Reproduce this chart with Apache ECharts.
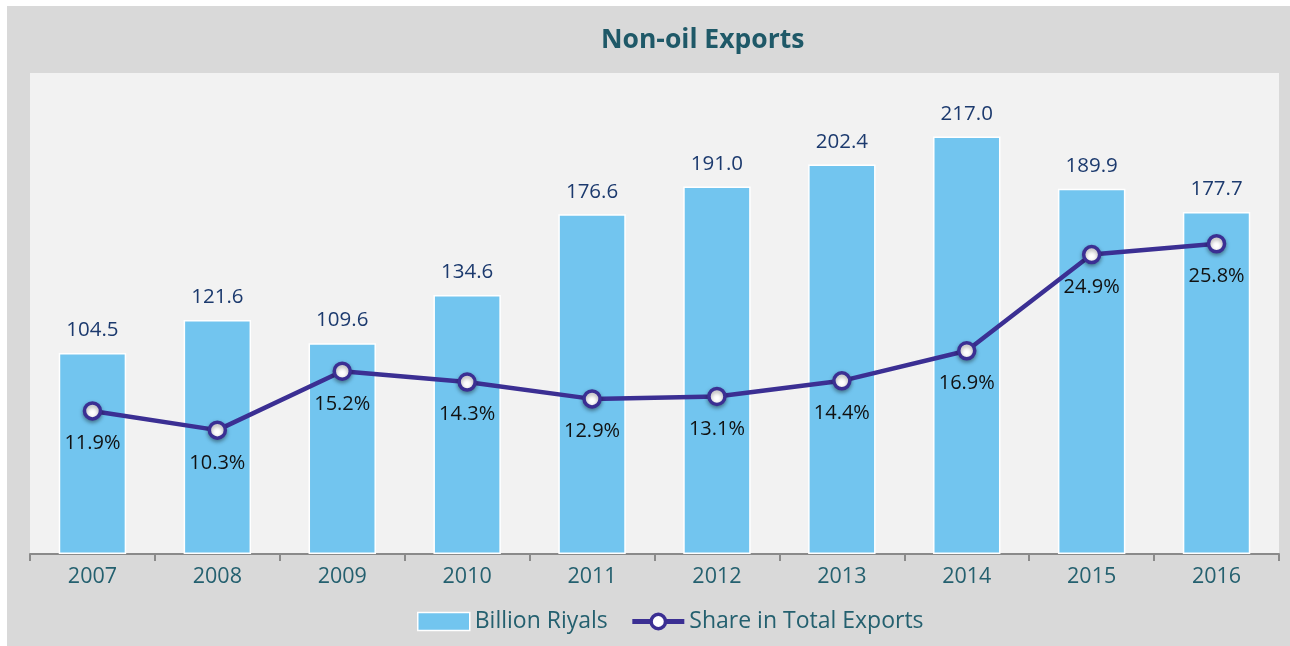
<!DOCTYPE html>
<html>
<head>
<meta charset="utf-8">
<script src="https://cdn.jsdelivr.net/npm/echarts@6/dist/echarts.min.js"></script>
<style>
  html, body { margin: 0; padding: 0; background: #ffffff; }
  #chart { position: absolute; left: 7px; top: 6px; width: 1283px; height: 640px; background: #d9d9d9; }
</style>
</head>
<body>
<div id="chart"></div>
<script>
// values
const years = ['2007', '2008', '2009', '2010', '2011', '2012', '2013', '2014', '2015', '2016'];
const billionRiyals = [104.5, 121.6, 109.6, 134.6, 176.6, 191.0, 202.4, 217.0, 189.9, 177.7];
const shareOfExports = [11.9, 10.3, 15.2, 14.3, 12.9, 13.1, 14.4, 16.9, 24.9, 25.8];

const teal = '#24606f';
const purple = '#3b2f93';
const font = 'Open Sans';

const chart = echarts.init(document.getElementById('chart'));

chart.setOption({
    animation: false,
    textStyle: { fontFamily: font },
    title: {
        text: 'Non-oil Exports',
        left: 589,
        top: 16,
        textStyle: { color: '#1f5968', fontSize: 26.5, fontWeight: 'bold', fontFamily: font }
    },
    legend: {
        bottom: 8,
        left: 405,
        itemGap: 22,
        textStyle: { color: teal, fontSize: 23, fontFamily: font },
        data: [
            { name: 'Billion Riyals', icon: 'rect', itemStyle: { borderColor: '#fff', borderWidth: 1.5 } },
            { name: 'Share in Total Exports', itemStyle: { borderWidth: 3.5 }, lineStyle: { width: 5 } }
        ],
        itemWidth: 52,
        itemHeight: 18
    },
    grid: {
        left: 23,
        right: 11,
        top: 67,
        bottom: 92,
        show: true,
        backgroundColor: '#f2f2f2',
        borderWidth: 0
    },
    xAxis: {
        type: 'category',
        data: years,
        axisLine: { lineStyle: { color: '#8a8a8a', width: 2 } },
        axisTick: { show: true, length: 7, lineStyle: { color: '#8a8a8a', width: 2 } },
        axisLabel: { color: teal, fontSize: 21.5, margin: 12, fontFamily: font }
    },
    yAxis: [
        { type: 'value', min: 0, max: 250, show: false, splitLine: { show: false } },
        { type: 'value', min: 0, max: 40, show: false, splitLine: { show: false } }
    ],
    series: [
        {
            name: 'Billion Riyals',
            type: 'bar',
            data: billionRiyals,
            barWidth: '54%',
            itemStyle: { color: '#72c5ef', borderColor: '#ffffff', borderWidth: 1.5 },
            label: {
                show: true,
                position: 'top',
                distance: 12,
                color: '#1c3a6e',
                fontSize: 20.5,
                fontFamily: font,
                formatter: p => p.value.toFixed(1)
            }
        },
        {
            name: 'Share in Total Exports',
            type: 'line',
            yAxisIndex: 1,
            data: shareOfExports,
            symbol: 'circle',
            symbolSize: 16,
            lineStyle: { color: purple, width: 4.5 },
            itemStyle: {
                color: '#ffffff',
                borderColor: purple,
                borderWidth: 3.5,
                shadowBlur: 4,
                shadowColor: 'rgba(0,0,0,0.35)',
                shadowOffsetY: 2
            },
            label: {
                show: true,
                position: 'bottom',
                distance: 13,
                color: '#111111',
                fontSize: 20,
                fontFamily: font,
                formatter: p => p.value.toFixed(1) + '%'
            },
            z: 3
        }
    ]
});
</script>
</body>
</html>
